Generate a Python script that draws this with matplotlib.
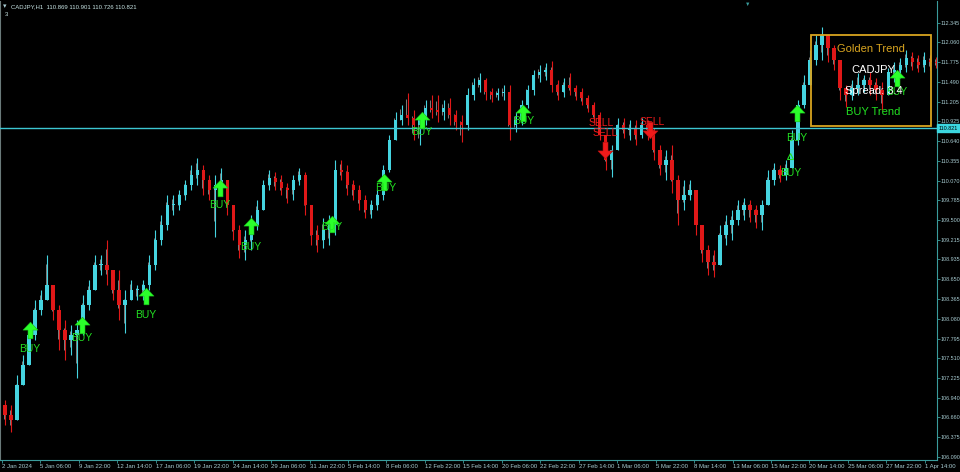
import matplotlib
matplotlib.use("Agg")
import matplotlib.pyplot as plt
from matplotlib.path import Path
from matplotlib.patches import Rectangle
import numpy as np

plt.rcParams["font.family"] = ["Liberation Sans", "DejaVu Sans"]

# ---- data ----
symbol = "CADJPY"
header = "CADJPY,H1  110.869 110.901 110.726 110.821"
bid = 110.821

bar_step = 10          # one drawn candle = 10 hourly bars
first_open = 106.84
highs = [106.91, 106.84, 107.27, 107.56, 107.99, 108.35, 108.49, 109.00, 108.57, 108.28,
         108.06, 107.99, 108.06, 108.42, 108.64, 109.00, 109.00, 109.21, 108.78, 108.78,
         108.49, 108.64, 108.57, 108.64, 109.00, 109.36, 109.57, 109.86, 109.86, 109.93,
         110.08, 110.29, 110.40, 110.29, 110.15, 110.15, 110.25, 110.01, 109.72, 109.43,
         109.36, 109.57, 109.79, 110.08, 110.22, 110.19, 110.15, 110.04, 110.15, 110.25,
         110.19, 109.72, 109.43, 109.53, 109.57, 110.37, 110.37, 110.29, 110.08, 110.01,
         109.86, 109.79, 109.93, 110.29, 110.73, 111.06, 111.16, 111.33, 111.09, 111.01,
         111.23, 111.30, 111.30, 111.23, 111.26, 111.09, 111.01, 111.40, 111.55, 111.62,
         111.55, 111.40, 111.40, 111.45, 111.45, 111.06, 111.23, 111.45, 111.66, 111.73,
         111.76, 111.79, 111.52, 111.55, 111.62, 111.45, 111.40, 111.30, 111.20, 111.06,
         110.73, 110.58, 110.97, 110.97, 110.94, 110.94, 110.97, 110.94, 110.83, 110.58,
         110.51, 110.58, 110.15, 110.08, 110.08, 109.93, 109.43, 109.14, 109.07, 109.43,
         109.57, 109.65, 109.79, 109.82, 109.79, 109.72, 109.79, 110.22, 110.32, 110.29,
         110.37, 110.80, 111.23, 111.59, 111.95, 112.17, 112.28, 112.17, 112.02, 111.81,
         111.45, 111.52, 111.62, 111.59, 111.63, 111.55, 111.49, 111.69, 111.78, 111.84,
         111.95, 111.92, 111.88, 111.92, 111.88, 111.85]
lows = [106.55, 106.45, 106.62, 107.13, 107.41, 107.77, 108.13, 108.35, 108.06, 107.63,
        107.49, 107.56, 107.23, 107.85, 108.21, 108.57, 108.71, 108.57, 108.35, 108.06,
        107.87, 108.35, 108.35, 108.35, 108.49, 108.78, 109.14, 109.36, 109.57, 109.65,
        109.79, 109.93, 110.01, 109.86, 109.79, 109.26, 109.86, 109.57, 109.21, 108.95,
        108.93, 109.07, 109.36, 109.65, 109.93, 109.93, 109.86, 109.75, 109.79, 110.01,
        109.57, 109.14, 109.04, 109.10, 109.14, 109.29, 110.08, 109.86, 109.79, 109.65,
        109.53, 109.53, 109.65, 109.79, 110.19, 110.65, 110.87, 110.87, 110.65, 110.58,
        110.87, 110.97, 110.91, 110.94, 110.87, 110.80, 110.63, 110.80, 111.23, 111.35,
        111.23, 111.20, 111.23, 111.23, 110.65, 110.77, 110.87, 111.12, 111.30, 111.49,
        111.52, 111.35, 111.23, 111.27, 111.30, 111.23, 111.16, 111.06, 110.91, 110.65,
        110.22, 110.12, 110.51, 110.68, 110.65, 110.58, 110.68, 110.65, 110.37, 110.15,
        110.08, 109.89, 109.43, 109.65, 109.79, 109.29, 108.90, 108.71, 108.68, 108.85,
        109.14, 109.21, 109.43, 109.50, 109.47, 109.39, 109.36, 109.72, 110.01, 110.05,
        110.08, 110.29, 110.58, 111.12, 111.45, 111.73, 111.81, 111.78, 111.66, 111.23,
        111.13, 111.23, 111.30, 111.35, 111.30, 111.23, 111.09, 111.35, 111.49, 111.55,
        111.63, 111.66, 111.63, 111.63, 111.66, 111.69]
closes = [106.69, 106.62, 107.13, 107.41, 107.85, 108.21, 108.35, 108.57, 108.21, 107.92,
          107.77, 107.85, 107.92, 108.28, 108.49, 108.85, 108.85, 108.78, 108.49, 108.28,
          108.35, 108.49, 108.49, 108.57, 108.85, 109.21, 109.43, 109.72, 109.72, 109.86,
          110.01, 110.15, 110.22, 110.08, 109.93, 110.01, 110.08, 109.72, 109.36, 109.14,
          109.21, 109.43, 109.65, 110.01, 110.11, 110.05, 109.96, 109.93, 110.08, 110.15,
          109.72, 109.29, 109.21, 109.36, 109.43, 110.22, 110.19, 110.01, 109.93, 109.79,
          109.65, 109.72, 109.86, 110.22, 110.65, 110.94, 111.01, 110.97, 110.87, 110.94,
          111.12, 111.09, 111.06, 111.12, 111.01, 110.91, 110.87, 111.30, 111.45, 111.52,
          111.35, 111.30, 111.33, 111.35, 110.87, 110.94, 111.16, 111.37, 111.59, 111.63,
          111.66, 111.45, 111.35, 111.45, 111.40, 111.35, 111.26, 111.16, 111.01, 110.73,
          110.37, 110.51, 110.87, 110.80, 110.83, 110.73, 110.87, 110.80, 110.51, 110.29,
          110.37, 110.08, 109.79, 109.86, 109.93, 109.43, 109.07, 108.90, 108.85, 109.29,
          109.43, 109.50, 109.65, 109.72, 109.65, 109.57, 109.72, 110.08, 110.22, 110.15,
          110.25, 110.65, 111.16, 111.45, 111.81, 112.02, 112.17, 111.98, 111.81, 111.40,
          111.30, 111.40, 111.45, 111.52, 111.45, 111.37, 111.30, 111.63, 111.66, 111.73,
          111.84, 111.78, 111.73, 111.81, 111.78, 111.76]

date_labels = ["2 Jan 2024", "5 Jan 06:00", "9 Jan 22:00", "12 Jan 14:00", "17 Jan 06:00",
               "19 Jan 22:00", "24 Jan 14:00", "29 Jan 06:00", "31 Jan 22:00", "5 Feb 14:00",
               "8 Feb 06:00", "12 Feb 22:00", "15 Feb 14:00", "20 Feb 06:00", "22 Feb 22:00",
               "27 Feb 14:00", "1 Mar 06:00", "5 Mar 22:00", "8 Mar 14:00", "13 Mar 06:00",
               "15 Mar 22:00", "20 Mar 14:00", "25 Mar 06:00", "27 Mar 22:00", "1 Apr 14:00"]
bars_per_label = 64

price_labels = ["112.345", "112.060", "111.775", "111.490", "111.205", "110.925", "110.640",
                "110.355", "110.070", "109.785", "109.500", "109.215", "108.935", "108.650",
                "108.365", "108.080", "107.795", "107.510", "107.225", "106.940", "106.660",
                "106.375", "106.090"]

# signals: bar index, price of the arrow
buy_bars = [47, 133, 240, 363, 414, 549, 636, 699, 867, 1323, 1490]
buy_prices = [107.92, 107.99, 108.41, 109.96, 109.42, 109.45, 110.05, 110.94, 111.04, 111.04, 111.55]
weak_buy_bars = [1312]
weak_buy_prices = [110.42]
sell_bars = [1004, 1079]
sell_prices = [110.51, 110.80]

buy_text_bars = [47, 133, 240, 363, 414, 549, 639, 699, 869, 1313, 1323, 1490]
buy_text_prices = [107.65, 107.80, 108.13, 109.72, 109.11, 109.40, 109.96, 110.77,
                   110.93, 110.18, 110.68, 111.35]
sell_text_bars = [997, 1004, 1082]
sell_text_prices = [110.90, 110.75, 110.91]

# ---- colours ----
bg = "black"
up_color = "#45D4E0"
down_color = "#E01818"
axis_color = "#3A9C9C"
label_color = "#A8CCD2"
buy_color = "#22E022"
arrow_green = "#2BFF2B"
sell_color = "#F01A1A"
gold = "#D9A520"

fig = plt.figure(figsize=(9.6, 4.72), dpi=100, facecolor=bg)
ax = fig.add_axes([0.0, 12 / 472, 937 / 960, 459 / 472], facecolor=bg)

# candles
opens = [first_open] + closes[:-1]
xs = np.arange(len(closes)) * bar_step + bar_step / 2
o = np.array(opens)
c = np.array(closes)
h = np.maximum(np.array(highs), np.maximum(o, c))
l = np.minimum(np.array(lows), np.minimum(o, c))
cols = np.where(c >= o, up_color, down_color)
ax.vlines(xs, l, h, colors=cols, lw=0.8, zorder=2)
ax.vlines(xs - 2, l + (h - l) * 0.25, h - (h - l) * 0.2, colors="#B0B0B0", lw=0.5, zorder=2)
body = np.where(np.abs(c - o) < 0.012, 0.012, c - o)
ax.bar(xs, body, bottom=o, width=5.5, color=cols, linewidth=0, zorder=3)

# bid line
ax.axhline(bid, color="#3CC6D2", lw=1.0, zorder=4)

# arrows
up_arrow = Path([(0, 1), (0.9, 0.05), (0.3, 0.05), (0.3, -1), (-0.3, -1), (-0.3, 0.05),
                 (-0.9, 0.05), (0, 1)],
                [Path.MOVETO] + [Path.LINETO] * 6 + [Path.CLOSEPOLY])
down_arrow = Path(up_arrow.vertices * np.array([1, -1]), up_arrow.codes)
ax.plot(buy_bars, buy_prices, ls="none", marker=up_arrow, ms=12, color=arrow_green,
        mec="#18B818", mew=0.4, zorder=6)
ax.plot(sell_bars, sell_prices, ls="none", marker=down_arrow, ms=12, color=sell_color,
        mec="#B01010", mew=0.4, zorder=6)
ax.plot(weak_buy_bars, weak_buy_prices, ls="none", marker="^", ms=5, mfc="none",
        mec=buy_color, mew=0.8, zorder=6)

for bx, py in zip(buy_text_bars, buy_text_prices):
    ax.text(bx, py, "BUY", color=buy_color, fontsize=7.5, ha="center", va="center", zorder=7)
for bx, py in zip(sell_text_bars, sell_text_prices):
    ax.text(bx, py, "SELL", color=sell_color, fontsize=7.5, ha="center", va="center", zorder=7)

# info panel
ax.add_patch(Rectangle((811 / 937, (460 - 126) / 459), 120 / 937, 91 / 459,
                       transform=ax.transAxes, fill=False, ec=gold, lw=1.3, zorder=8))
ax.text(0.9296, 0.8954, "Golden Trend", color=gold, fontsize=8, ha="center", va="center",
        transform=ax.transAxes, zorder=9)
ax.text(0.9316, 0.8497, symbol, color="white", fontsize=8, ha="center", va="center",
        transform=ax.transAxes, zorder=9)
ax.text(0.9016, 0.804, "Spread: 3.4", color="white", fontsize=8, ha="left", va="center",
        transform=ax.transAxes, zorder=9)
ax.text(0.9316, 0.758, "BUY Trend", color=buy_color, fontsize=8, ha="center", va="center",
        transform=ax.transAxes, zorder=9)

# axes
ax.set_xlim(-3.3, 1556.3)
ax.set_ylim(106.046, 112.656)
ax.set_xticks(np.arange(len(date_labels)) * bars_per_label, date_labels)
for t in ax.get_xticklabels():
    t.set_ha("left")
ax.yaxis.tick_right()
ax.set_yticks([float(p) for p in price_labels], price_labels)
ax.tick_params(axis="both", colors=axis_color, labelcolor=label_color,
               length=2, width=0.6, pad=1)
ax.tick_params(axis="x", labelsize=4.3)
ax.tick_params(axis="y", labelsize=3.9, pad=0.8)
ax.spines["top"].set_visible(False)
ax.spines["left"].set_color("#6A7A7A")
ax.spines["right"].set_color(axis_color)
ax.spines["bottom"].set_color(axis_color)
for s in ax.spines.values():
    s.set_linewidth(0.8)

# current price tag on the price scale
fig.patches.append(Rectangle((937 / 960, (472 - 132) / 472), 23 / 960, 8 / 472,
                             transform=fig.transFigure, color="#3CD6E0", zorder=10))
fig.text(948.5 / 960, (472 - 128) / 472, "110.821", color="black", fontsize=3.9,
         ha="center", va="center", zorder=11)

# header
fig.text(3 / 960, 1 - 7 / 472, "\u25be", color=label_color, fontsize=5, va="center")
fig.text(11 / 960, 1 - 7 / 472, header, color="#C8E4E4", fontsize=4.3, va="center")
fig.text(5 / 960, 1 - 15 / 472, "3", color="#C8E4E4", fontsize=4.3, va="center")
fig.text(748 / 960, 1 - 4 / 472, "\u25bc", color=axis_color, fontsize=4, ha="center", va="center")

fig.savefig("out.png", dpi=100, facecolor=bg)
